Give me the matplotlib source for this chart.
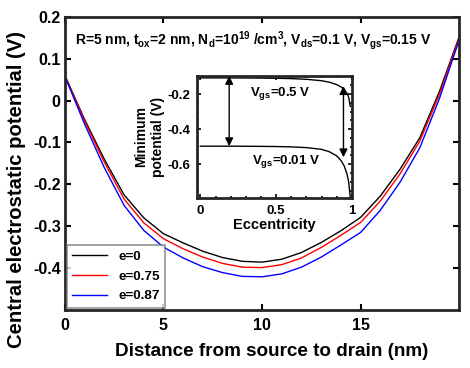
import matplotlib
matplotlib.use('Agg')
import matplotlib.pyplot as plt
import numpy as np

plt.rcParams['font.family'] = ['Liberation Sans', 'DejaVu Sans']
plt.rcParams['font.weight'] = 'bold'
plt.rcParams['mathtext.fontset'] = 'custom'
plt.rcParams['mathtext.rm'] = 'Liberation Sans:weight=bold'
plt.rcParams['mathtext.it'] = 'Liberation Sans:weight=bold'
plt.rcParams['mathtext.bf'] = 'Liberation Sans:weight=bold'
plt.rcParams['mathtext.default'] = 'rm'

# main plot data: central potential along the channel
dist = [0, 1, 2, 3, 4, 5, 6, 7, 8, 9, 10, 11, 12, 13, 14, 15, 16, 17, 18, 19, 20]
pot_e0 = [0.06, -0.045, -0.14, -0.225, -0.28, -0.318, -0.340, -0.360, -0.375, -0.384, -0.386,
          -0.379, -0.363, -0.339, -0.311, -0.279, -0.228, -0.164, -0.089, 0.022, 0.153]
pot_e075 = [0.06, -0.049, -0.147, -0.235, -0.292, -0.330, -0.354, -0.374, -0.389, -0.398, -0.399,
            -0.392, -0.376, -0.351, -0.322, -0.291, -0.240, -0.175, -0.097, 0.015, 0.150]
pot_e087 = [0.058, -0.056, -0.160, -0.250, -0.310, -0.350, -0.376, -0.397, -0.411, -0.420, -0.421,
            -0.414, -0.398, -0.374, -0.345, -0.315, -0.262, -0.195, -0.113, 0.005, 0.145]
labels = ['e=0', 'e=0.75', 'e=0.87']
colors = ['black', 'red', 'blue']

# inset data: minimum potential vs eccentricity
ecc = [0, 0.2, 0.4, 0.5, 0.6, 0.7, 0.8, 0.85, 0.9, 0.93, 0.95, 0.97, 0.98, 0.99]
min_vgs05 = [-0.108, -0.108, -0.109, -0.110, -0.112, -0.116, -0.124, -0.132, -0.146, -0.160,
             -0.175, -0.198, -0.220, -0.270]
min_vgs001 = [-0.497, -0.497, -0.498, -0.499, -0.501, -0.505, -0.515, -0.528, -0.552, -0.580,
              -0.610, -0.660, -0.705, -0.790]

fig = plt.figure(figsize=(4.7, 3.68), dpi=100)
ax = fig.add_axes([0.138, 0.158, 0.839, 0.796])

for y, lab, c in zip([pot_e0, pot_e075, pot_e087], labels, colors):
    ax.plot(dist, y, color=c, lw=1, label=lab)

ax.set_xlim(0, 20)
ax.set_ylim(-0.5, 0.2)
ax.set_xticks([0, 5, 10, 15])
ax.set_yticks([0.2, 0.1, 0, -0.1, -0.2, -0.3, -0.4])
ax.set_yticklabels(['0.2', '0.1', '0', '-0.1', '-0.2', '-0.3', '-0.4'])
ax.tick_params(direction='in', top=True, right=True, labelsize=11.5, width=1.5, length=4)
ax.tick_params(axis='y', pad=3)
ax.tick_params(axis='x', pad=6)
for s in ax.spines.values():
    s.set_linewidth(2)
    s.set_color('#262626')
ax.set_xlabel('Distance from source to drain (nm)', fontsize=13.6, fontweight='bold')
ax.set_ylabel('Central electrostatic potential (V)', fontsize=14.6, fontweight='bold')
ax.xaxis.set_label_coords(0.525, -0.143)
ax.xaxis.label.set_va('center')
ax.yaxis.set_label_coords(-0.122, 0.41)
ax.yaxis.label.set_va('center')

ax.text(0.478, 0.96, 'R=5 nm, t$_{ox}$=2 nm, N$_d$=10$^{19}$ /cm$^3$, V$_{ds}$=0.1 V, V$_{gs}$=0.15 V',
        transform=ax.transAxes, ha='center', va='top', fontsize=10, fontweight='bold')

leg = ax.legend(loc='lower left', fontsize=9.7, frameon=True, fancybox=False,
                borderaxespad=0.15, handlelength=2.6, labelspacing=0.55, borderpad=0.4)
leg.get_frame().set_edgecolor('#777777')
leg.get_frame().set_linewidth(1.2)

# inset
ins = fig.add_axes([0.420, 0.463, 0.3285, 0.3315])
ins.plot(ecc, min_vgs05, color='black', lw=1)
ins.plot(ecc, min_vgs001, color='black', lw=1)
ins.set_xlim(-0.02, 0.995)
ins.set_ylim(-0.79, -0.095)
ins.set_xticks([0, 0.5, 1])
ins.set_xticklabels(['0', '0.5', '1'])
ins.set_yticks([-0.2, -0.4, -0.6])
ins.set_yticklabels(['-0.2', '-0.4', '-0.6'])
ins.minorticks_on()
ins.tick_params(which='both', direction='in', top=True, right=True, labelsize=9.5, width=1.2)
ins.tick_params(which='major', length=3, pad=5)
ins.tick_params(which='minor', length=1.5)
for s in ins.spines.values():
    s.set_linewidth(2)
    s.set_color('#262626')
ins.set_xlabel('Eccentricity', fontsize=10.5, fontweight='bold', labelpad=1)
ins.set_ylabel('Minimum\npotential (V)', fontsize=10, fontweight='bold', labelpad=2)

arr = dict(arrowstyle='<|-|>', color='black', lw=1, mutation_scale=12, shrinkA=0, shrinkB=0)
ins.annotate('', xy=(0.19, -0.097), xytext=(0.19, -0.497), arrowprops=arr)
ins.annotate('', xy=(0.945, -0.155), xytext=(0.945, -0.56), arrowprops=arr)
ins.text(0.33, -0.195, 'V$_{gs}$=0.5 V', fontsize=9.5, fontweight='bold', va='center')
ins.text(0.34, -0.585, 'V$_{gs}$=0.01 V', fontsize=9.5, fontweight='bold', va='center')

fig.savefig('out.png', dpi=100)
